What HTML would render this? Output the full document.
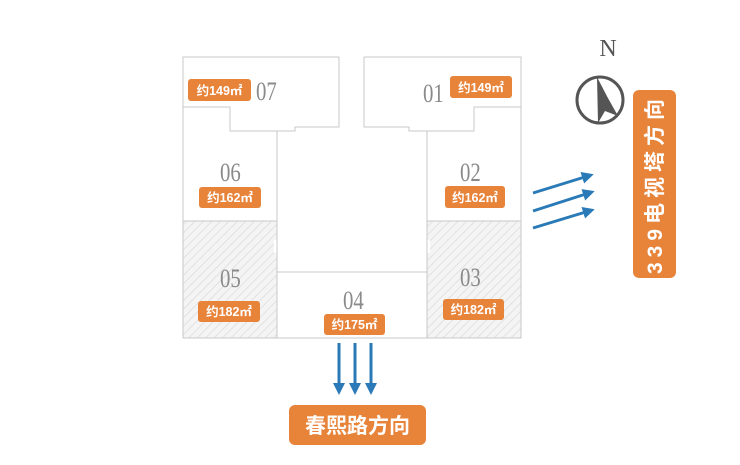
<!DOCTYPE html>
<html><head><meta charset="utf-8"><style>
html,body{margin:0;padding:0;background:#fff;}
svg{display:block;}
.num{font-family:"Liberation Serif",serif;font-size:26px;fill:#8a8a8a;}
.bt{font-family:"Liberation Sans","Noto Sans CJK SC",sans-serif;font-size:12.5px;font-weight:bold;fill:#fff;}
.big{font-family:"Liberation Sans","Noto Sans CJK SC",sans-serif;font-size:21px;font-weight:bold;fill:#fff;}
</style></head><body>
<svg width="740" height="465" viewBox="0 0 740 465" xmlns="http://www.w3.org/2000/svg">
<defs>
<pattern id="h" width="6" height="6" patternUnits="userSpaceOnUse" patternTransform="rotate(45)">
<rect width="6" height="6" fill="#f4f4f4"/><line x1="0" y1="0" x2="0" y2="6" stroke="#d6d6d6" stroke-width="1.2"/>
</pattern>
<marker id="ah" markerWidth="4" markerHeight="4" refX="2" refY="2" orient="auto" markerUnits="strokeWidth">
<path d="M0,0 L4,2 L0,4 z" fill="#2a7ab8"/></marker>
</defs>
<path d="M183,221 H277 V240 H274 V253 H277 V338 H183 Z" fill="url(#h)"/>
<path d="M427,221 H521 V338 H427 V253 H430 V240 H427 Z" fill="url(#h)"/>
<g fill="none" stroke="#c8c8c8" stroke-width="1">
<path d="M339,57 H183 V338 H521 V57 H364"/>
<path d="M183,107 H230 V131 H295 V127 H339 V57"/>
<path d="M521,107 H474 V131 H409 V127 H364 V57"/>
<path d="M277,131 V338"/>
<path d="M427,131 V338"/>
<path d="M277,272 H427"/>
<path d="M183,221 H277"/>
<path d="M427,221 H521"/>
</g>
<g class="num">
<text transform="translate(256,100) scale(0.8,1)">07</text>
<text transform="translate(423,102) scale(0.8,1)">01</text>
<text transform="translate(220,181) scale(0.8,1)">06</text>
<text transform="translate(460,181) scale(0.8,1)">02</text>
<text transform="translate(220,287) scale(0.8,1)">05</text>
<text transform="translate(460,286) scale(0.8,1)">03</text>
<text transform="translate(343,309) scale(0.8,1)">04</text>
</g>
<g fill="#e8833a">
<rect x="188" y="79" width="63" height="22" rx="3"/>
<rect x="450" y="76" width="62" height="22" rx="3"/>
<rect x="199" y="187" width="62" height="21" rx="3"/>
<rect x="445" y="186" width="60" height="22" rx="3"/>
<rect x="198" y="301" width="62" height="21" rx="3"/>
<rect x="443" y="299" width="61" height="21" rx="3"/>
<rect x="324" y="314" width="61" height="21" rx="3"/>
<rect x="633" y="90" width="43" height="188" rx="6"/>
<rect x="289" y="405" width="137" height="40" rx="6"/>
</g>
<text class="bt" x="219.5" y="95" text-anchor="middle">约149㎡</text>
<text class="bt" x="481" y="92" text-anchor="middle">约149㎡</text>
<text class="bt" x="230" y="202" text-anchor="middle">约162㎡</text>
<text class="bt" x="475" y="202" text-anchor="middle">约162㎡</text>
<text class="bt" x="229" y="316" text-anchor="middle">约182㎡</text>
<text class="bt" x="473.5" y="314" text-anchor="middle">约182㎡</text>
<text class="bt" x="354.5" y="329" text-anchor="middle">约175㎡</text>
<text class="big" x="357.5" y="433" text-anchor="middle">春熙路方向</text>
<text class="big" transform="translate(662,184) rotate(-90)" text-anchor="middle" letter-spacing="5">339电视塔方向</text>
<text x="608" y="56" text-anchor="middle" font-family="Liberation Serif,serif" font-size="24" fill="#555">N</text>
<circle cx="600" cy="100" r="23" fill="none" stroke="#555" stroke-width="3"/>
<path d="M597,77 L598,123 L605,111 L618,116 Q607,97 597,77 Z" fill="#555"/>
<g stroke="#2a7ab8" stroke-width="3" marker-end="url(#ah)">
<line x1="533" y1="193" x2="588" y2="176"/>
<line x1="533" y1="211" x2="589" y2="193"/>
<line x1="533" y1="228" x2="589" y2="211"/>
<line x1="339" y1="343" x2="339" y2="389"/>
<line x1="355" y1="343" x2="355" y2="389"/>
<line x1="371" y1="343" x2="371" y2="389"/>
</g>
</svg>
</body></html>
